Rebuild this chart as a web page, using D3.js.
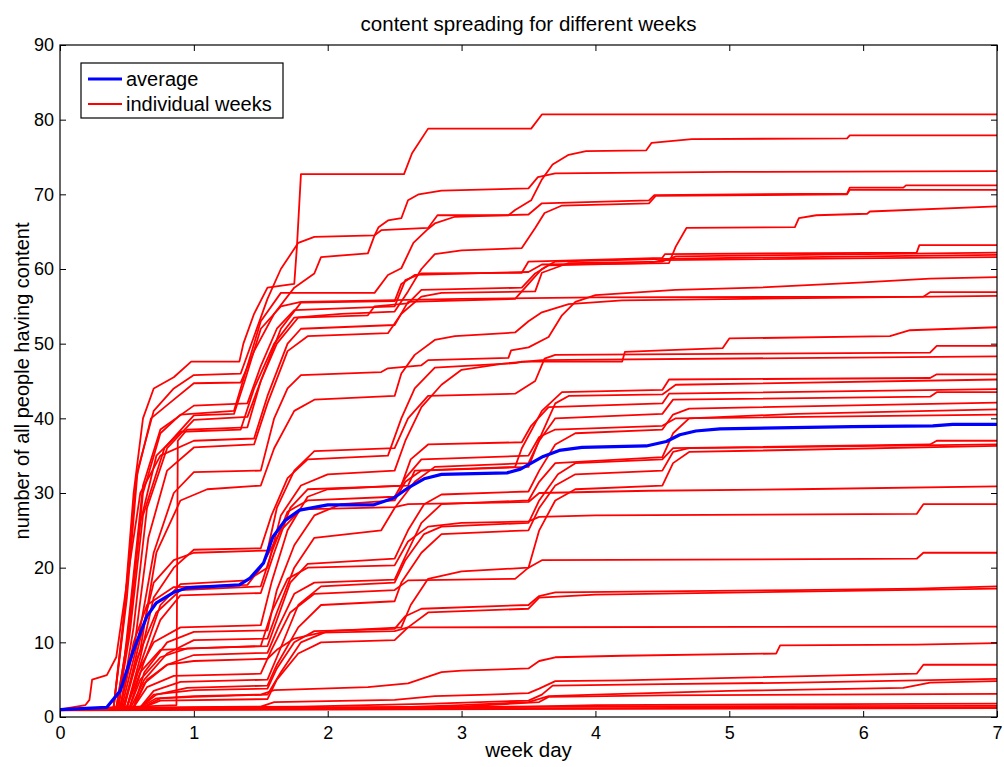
<!DOCTYPE html>
<html>
<head>
<meta charset="utf-8">
<script src="https://cdn.jsdelivr.net/npm/d3@7"></script>
<style>
    body { margin: 0; background: #fff; }
    text { font-family: "Liberation Sans", Arial, Helvetica, sans-serif; fill: #000; }
</style>
</head>
<body>
<div class="svg-container"></div>
<script>
// tick labels
const xTicks = [0, 1, 2, 3, 4, 5, 6, 7];
const yTicks = [0, 10, 20, 30, 40, 50, 60, 70, 80, 90];

// average over all weeks (day, people)
const average = [[0,1],[0.35,1.3],[0.45,3.5],[0.55,9],[0.65,13.5],[0.72,15.3],[0.85,16.7],[0.95,17.3],[1.34,17.7],[1.42,18.6],[1.52,20.6],[1.59,24.1],[1.68,26.3],[1.79,27.7],[2.0,28.4],[2.34,28.4],[2.49,29.3],[2.61,30.8],[2.72,31.9],[2.85,32.5],[3.34,32.7],[3.44,33.2],[3.52,34],[3.61,34.9],[3.73,35.7],[3.9,36.1],[4.38,36.3],[4.53,36.9],[4.63,37.8],[4.75,38.3],[4.93,38.6],[5.92,38.9],[6.52,39],[6.67,39.2],[7,39.2]];

// individual weeks (day, people)
const weeksHigh = [
    [[0,1],[0.4,1.3],[0.47,12],[0.55,30],[0.62,40],[0.7,44],[0.85,45.5],[0.98,47.6],[1.34,47.6],[1.37,50],[1.45,54],[1.55,57.5],[1.75,58],[1.77,63],[1.8,72.7],[2.57,72.7],[2.63,75.5],[2.75,78.8],[3.52,78.8],[3.6,80.7],[7,80.7]],
    [[0,1],[0.4,1.2],[0.48,14],[0.57,32],[0.68,40],[0.85,42.5],[1.0,44.7],[1.35,44.8],[1.45,49],[1.6,54],[1.75,57.5],[1.9,59.4],[1.95,61.6],[2.3,62.1],[2.35,64.5],[2.4,65.2],[2.75,65.5],[2.82,67.2],[3.35,67.2],[3.4,67.9],[3.52,69.2],[3.6,72],[3.68,74],[3.8,75.3],[3.93,75.8],[4.38,75.9],[4.42,76.9],[4.72,77.4],[5.88,77.5],[5.9,77.9],[7,77.9]],
    [[0,1],[0.4,1.2],[0.5,16],[0.58,33],[0.7,41],[0.85,44],[1.0,45.8],[1.35,46],[1.45,51],[1.55,56],[1.65,60],[1.78,63.5],[1.9,64.3],[2.35,64.5],[2.38,65.6],[2.45,66.5],[2.55,66.8],[2.6,69.2],[2.68,70],[2.85,70.5],[3.5,70.8],[3.57,72.3],[3.7,72.8],[5.0,73],[7,73.1]],
    [[0,1],[0.42,1.2],[0.52,12],[0.62,30],[0.75,38],[0.9,40.5],[1.3,41],[1.4,47],[1.5,53],[1.65,56.8],[2.35,56.8],[2.45,59.2],[2.55,60.1],[2.64,63.5],[2.74,65.2],[2.8,66.1],[2.95,67],[3.5,67.3],[3.6,68.8],[4.4,69.2],[4.44,69.9],[5.88,70.1],[5.9,70.9],[6.3,70.9],[6.32,71.2],[7,71.2]],
    [[0,1],[0.42,1.2],[0.5,10],[0.6,26],[0.72,35],[0.9,38.2],[1.35,38.5],[1.45,44],[1.6,50],[1.75,53.5],[2.1,54],[2.5,54.3],[2.6,57],[2.7,60],[2.8,62],[3.0,62.5],[3.45,62.8],[3.55,65.5],[3.62,67.5],[3.75,68.5],[4.4,68.8],[4.45,69.8],[5.88,70],[5.9,70.6],[7,70.6]],
    [[0,1],[0.45,1.2],[0.55,12],[0.65,28],[0.8,36],[1.0,39.8],[1.4,40.2],[1.5,45],[1.65,52],[1.8,55.5],[2.5,55.7],[2.55,58],[2.65,59.2],[3.5,59.6],[3.6,60.6],[4.55,60.8],[4.6,63],[4.68,65.5],[5.49,65.6],[5.52,66.8],[5.65,67.2],[6.03,67.4],[6.05,67.7],[7,68.4]],
    [[0,1],[0.44,1.2],[0.52,14],[0.62,31],[0.75,38.5],[1.0,41.7],[1.4,42],[1.5,47],[1.62,52],[1.75,54.5],[2.5,55],[2.58,58.5],[2.7,59.4],[3.45,59.5],[3.5,61],[4.5,61.5],[4.52,62],[6.4,62.2],[6.42,63.2],[7,63.2]],
    [[0,1],[0.45,1.3],[0.56,10],[0.66,24],[0.8,33],[1.0,36.1],[1.45,36.5],[1.55,42],[1.7,49],[1.85,51],[2.45,51.4],[2.55,54],[2.7,56.3],[2.85,56.8],[3.55,57],[3.6,59.5],[3.8,60.8],[4.5,61],[4.6,61.7],[7,62.2]],
    [[0,1],[0.19,1.6],[0.22,2.3],[0.24,5],[0.35,5.6],[0.42,8],[0.5,18],[0.6,30],[0.75,35],[1.0,37],[1.45,37.3],[1.55,43],[1.7,50],[1.8,52],[2.5,52.5],[2.6,55.6],[3.4,56],[3.5,58],[3.6,60],[3.7,61],[4.6,61.4],[7,61.9]],
    [[0,1],[0.87,1.6],[0.88,37],[0.95,38.5],[1.4,38.8],[1.5,45],[1.62,50],[1.78,53.5],[2.3,53.8],[2.35,55],[2.6,55.4],[2.7,57.2],[3.45,57.5],[3.55,59.4],[3.65,60.5],[4.4,60.8],[4.5,61.2],[7,61.6]],
    [[0,1],[0.46,1.2],[0.58,10],[0.7,22],[0.85,30],[1.0,32.8],[1.5,33],[1.6,40],[1.7,44],[1.8,45.8],[2.4,46.2],[2.45,46.7],[2.7,47.1],[2.75,47.8],[3.35,48.1],[3.37,49.1],[3.5,49.5],[3.65,50.9],[3.75,53.8],[3.85,55.6],[4.0,56.5],[4.6,57.2],[5.2,57.5],[6.0,58.2],[6.5,58.7],[7,58.9]],
    [[0,1],[0.43,1.2],[0.52,11],[0.62,27],[0.78,36],[1.0,40.4],[1.3,40.6],[1.38,45],[1.5,52],[1.65,55],[1.8,55.6],[3.0,56],[4.0,56.2],[6.45,56.3],[6.5,56.9],[7,56.9]],
    [[0,1],[0.47,1.3],[0.6,9],[0.72,22],[0.9,29],[1.1,30.5],[1.5,31],[1.6,36],[1.75,41],[1.9,42.5],[2.5,43],[2.55,46],[2.65,48.5],[2.8,50.5],[2.95,51],[3.4,51.5],[3.5,53],[3.6,54.2],[3.8,55.3],[4.2,55.8],[7,56.4]]
];

const weeksMid = [
    [[0,1],[0.5,1.3],[0.6,8],[0.7,16],[0.85,20],[1.0,22.4],[1.5,22.6],[1.58,27],[1.7,32],[1.85,34.5],[2.45,35],[2.55,40],[2.65,44],[2.8,46.8],[3.4,47.4],[3.45,47.6],[4.2,47.6],[4.22,48.9],[4.5,49.1],[4.95,49.4],[5.0,50.7],[6.2,51],[6.35,51.8],[7,52.2]],
    [[0,1],[0.48,1.3],[0.58,9],[0.7,18],[0.85,21],[1.0,22],[1.55,22.3],[1.62,28],[1.75,33],[1.9,35.6],[2.5,36],[2.6,40],[2.75,43],[3.4,43.3],[3.55,45],[3.62,48],[3.7,48.5],[6.5,48.8],[6.55,49.7],[7,49.7]],
    [[0,1],[0.5,1.3],[0.6,7],[0.75,15],[0.9,17.8],[1.4,18.3],[1.55,20],[1.65,27],[1.8,31],[2.0,32.5],[2.5,33],[2.58,37],[2.7,41.5],[2.85,44.5],[3.0,46.5],[3.3,47.3],[3.6,47.8],[7,48.3]],
    [[0,1],[0.52,1.3],[0.62,7],[0.75,13],[0.9,16.3],[1.5,16.6],[1.6,22],[1.72,28],[1.85,30.5],[2.6,31],[2.65,33],[3.4,33.5],[3.45,36],[3.6,41],[3.75,43.5],[4.5,43.8],[4.55,45.2],[6.5,45.4],[6.55,45.9],[7,45.9]],
    [[0,1],[0.55,1.3],[0.63,6],[0.8,10],[1.0,11.4],[1.55,11.6],[1.62,17],[1.75,23],[1.9,27],[2.1,28.5],[2.5,29],[2.58,31.5],[2.7,33],[3.5,33.5],[3.6,38],[3.7,42],[3.8,43],[4.5,43.2],[4.6,44.5],[7,45.2]],
    [[0,1],[0.5,1.3],[0.58,6],[0.7,10],[0.9,12],[1.5,12.3],[1.58,18],[1.7,25],[1.85,29.5],[2.0,30.5],[2.55,31],[2.62,34.5],[2.75,36.5],[3.45,36.8],[3.52,39],[3.65,41.5],[4.5,42],[4.55,43.3],[7,43.9]],
    [[0,1],[0.53,1.3],[0.63,5],[0.8,8.5],[1.0,10.3],[1.55,10.5],[1.62,14],[1.75,20],[1.9,24],[2.4,25],[2.5,28],[2.65,31.5],[2.8,33.5],[3.5,34],[3.58,37],[3.7,40],[4.5,40.6],[4.58,42.5],[6.5,42.9],[6.55,43.5],[7,43.5]],
    [[0,1],[0.52,1.3],[0.6,5],[0.75,8],[0.95,9.2],[1.55,9.5],[1.62,13],[1.72,18],[1.85,20.5],[2.5,21.2],[2.6,25],[2.72,28.5],[2.85,29.8],[3.5,30.2],[3.58,33],[3.7,36.5],[3.85,38],[4.5,38.5],[4.58,40.5],[4.7,41.3],[7,42.1]],
    [[0,1],[0.55,1.3],[0.63,4.5],[0.8,7],[1.0,8.3],[1.55,8.6],[1.63,12],[1.75,16.5],[1.9,18],[2.5,18.4],[2.58,21.5],[2.7,26],[2.85,28.5],[3.5,29],[3.58,31.5],[3.7,34],[4.5,34.8],[4.58,38],[4.7,40],[5.5,40.6],[7,41.2]],
    [[0,1],[0.48,1.3],[0.58,8],[0.72,14],[0.9,17],[1.5,17.5],[1.58,22],[1.7,27.5],[1.85,29],[2.5,29.5],[2.58,32],[2.7,34.5],[3.5,35],[3.58,37.5],[3.7,38.5],[4.5,39],[4.6,40],[7,40.5]],
    [[0,1],[0.6,1.3],[0.7,3.5],[0.9,4.7],[1.55,5],[1.62,8],[1.78,15],[1.95,17.5],[2.5,18],[2.58,21],[2.72,24.5],[2.85,25.5],[3.5,26],[3.58,29],[3.72,32.5],[3.85,34],[4.5,34.5],[4.58,36],[6.5,36.5],[6.55,37],[7,37]],
    [[0,1],[0.6,1.3],[0.72,3],[0.95,3.9],[1.55,4.2],[1.62,7],[1.78,12],[1.95,15],[2.5,15.5],[2.55,18],[2.7,22],[2.85,24.5],[3.5,25],[3.58,28],[3.7,31],[3.85,32.5],[4.5,33],[4.58,35.5],[4.7,36],[7,36.5]],
    [[0,1],[0.62,1.3],[0.75,2.5],[1.0,2.7],[1.55,3],[1.65,6],[1.8,10],[2.0,11.5],[2.55,12],[2.62,15],[2.75,18.5],[3.0,19.5],[3.5,20],[3.58,25],[3.7,29],[3.85,30.5],[4.5,31],[4.58,34],[4.7,35.5],[7,36.3]]
];

const weeksLow = [
    [[0,1],[0.45,1.2],[0.55,10],[0.65,15],[0.85,17.4],[1.4,17.7],[1.5,20],[1.65,25],[1.8,27.8],[2.5,28.1],[2.6,28.5],[3.5,28.8],[3.58,30],[4.4,30.3],[5.5,30.5],[7,30.9]],
    [[0,1],[0.5,1.3],[0.6,6],[0.75,9],[1.0,9.2],[1.5,9.5],[1.58,14],[1.7,18.5],[1.85,20],[2.5,20.3],[2.6,23.5],[2.75,25.5],[3.0,26],[3.5,26.2],[3.58,26.8],[4.0,27],[6.4,27.2],[6.45,28.5],[7,28.5]],
    [[0,1],[0.55,1.3],[0.65,4],[0.85,5.5],[1.5,5.8],[1.58,9],[1.72,14],[1.9,16.5],[2.5,17],[2.6,18.3],[3.4,18.5],[3.5,20],[3.6,21],[6.4,21.2],[6.45,22],[7,22]],
    [[0,1],[0.6,1.3],[0.7,3],[1.0,3.6],[1.55,3.8],[1.62,6.5],[1.75,10],[1.9,11.5],[2.5,11.8],[2.58,13.5],[2.7,14.5],[3.5,15],[3.58,16.2],[3.7,16.7],[5.5,17],[6.4,17.2],[7,17.5]],
    [[0,1],[0.62,1.3],[0.75,2.2],[1.55,2.4],[1.62,5],[1.78,8.5],[1.95,10],[2.5,10.3],[2.6,12],[2.75,14],[3.5,14.5],[3.58,16],[4.0,16.4],[5.5,16.8],[7,17.2]],
    [[0,1],[0.55,1.3],[0.65,5],[0.8,7],[1.0,7.5],[1.55,7.8],[1.62,9],[1.75,10.5],[1.95,11.3],[2.5,11.5],[2.6,12],[7,12.1]],
    [[0,1],[0.6,1.3],[0.72,2.5],[1.0,2.8],[1.5,3],[1.6,3.6],[2.3,4],[2.6,4.5],[2.85,6],[3.0,6.2],[3.5,6.5],[3.58,7.5],[3.7,8],[4.2,8.2],[5.35,8.5],[5.38,9.6],[6.4,9.7],[7,9.9]],
    [[0,1],[0.65,1.3],[1.5,1.4],[1.6,2],[2.5,2.3],[2.8,2.8],[3.2,3],[3.5,3.2],[3.58,3.8],[3.7,4.8],[4.2,4.9],[6.4,5.8],[6.45,7],[7,7]],
    [[0,1],[0.7,1.2],[1.8,1.4],[2.8,1.8],[3.5,2.2],[3.6,3],[3.68,4.2],[4.5,4.4],[5.5,4.6],[7,5.1]],
    [[0,1],[0.7,1.2],[2.5,1.3],[3.0,1.6],[3.5,2],[3.65,2.8],[4.0,3],[5.0,3.5],[6.3,3.9],[6.5,4.6],[7,4.8]],
    [[0,1],[1.0,1.2],[3.0,1.4],[3.58,2],[3.65,2.7],[4.5,2.9],[7,3.1]],
    [[0,1],[2.0,1.2],[3.5,1.4],[4.0,1.6],[7,1.8]],
    [[0,1],[0.6,1.1],[3.0,1.2],[3.5,1.4],[7,1.5]],
    [[0,1],[1.0,1.1],[4.0,1.2],[7,1.3]],
    [[0,0.9],[2,1],[7,1.2]]
];

const weeks = weeksHigh.concat(weeksMid, weeksLow);

const viewBox_width = 1004,
    viewBox_height = 767,
    margin = {top: 45, right: 7, bottom: 50, left: 60},
    width = viewBox_width - margin.left - margin.right,
    height = viewBox_height - margin.top - margin.bottom;

const svg = d3.select('.svg-container')
    .append('svg')
    .attr('width', viewBox_width)
    .attr('height', viewBox_height);

const xScale = d3.scaleLinear().domain([0, 7]).range([0, width]),
    yScale = d3.scaleLinear().domain([0, 90]).range([height, 0]);

const g = svg.append('g')
    .attr('transform', 'translate(' + margin.left + ',' + margin.top + ')');

// clip the lines to the axes box
g.append('clipPath').attr('id', 'plot-clip')
    .append('rect').attr('width', width).attr('height', height);

const line = d3.line()
    .x(function (d) { return xScale(d[0]); })
    .y(function (d) { return yScale(d[1]); });

const lines = g.append('g').attr('clip-path', 'url(#plot-clip)');

lines.selectAll('.week')
    .data(weeks).enter().append('path')
    .attr('class', 'week')
    .attr('d', line)
    .attr('fill', 'none')
    .attr('stroke', '#ff0000')
    .attr('stroke-width', 1.8)
    .attr('stroke-linejoin', 'round');

lines.append('path')
    .datum(average)
    .attr('d', line)
    .attr('fill', 'none')
    .attr('stroke', '#0000ff')
    .attr('stroke-width', 3.2)
    .attr('stroke-linejoin', 'round');

// axes, matlab style: ticks inside, box on
const tickLen = 6;
const xAxis = g.append('g')
    .attr('transform', 'translate(0,' + height + ')')
    .call(d3.axisBottom(xScale).tickValues(xTicks).tickFormat(d3.format('d'))
        .tickSizeInner(-tickLen).tickSizeOuter(0).tickPadding(9));
const yAxis = g.append('g')
    .call(d3.axisLeft(yScale).tickValues(yTicks).tickFormat(d3.format('d'))
        .tickSizeInner(-tickLen).tickSizeOuter(0).tickPadding(6));
g.append('g')
    .call(d3.axisTop(xScale).tickValues(xTicks).tickSizeInner(-tickLen).tickSizeOuter(0).tickFormat(''));
g.append('g')
    .attr('transform', 'translate(' + width + ',0)')
    .call(d3.axisRight(yScale).tickValues(yTicks).tickSizeInner(-tickLen).tickSizeOuter(0).tickFormat(''));

g.selectAll('.domain').remove();
g.selectAll('.tick line').attr('stroke', '#000').attr('stroke-width', 1);
xAxis.selectAll('text').style('font-size', '18px').attr('dy', '0.71em');
yAxis.selectAll('text').style('font-size', '18px');

g.append('rect')
    .attr('width', width).attr('height', height)
    .attr('fill', 'none').attr('stroke', '#000').attr('stroke-width', 1.2);

// labels
svg.append('text')
    .attr('x', margin.left + width / 2).attr('y', 31)
    .attr('text-anchor', 'middle')
    .style('font-size', '20.5px')
    .text('content spreading for different weeks');

svg.append('text')
    .attr('x', margin.left + width / 2).attr('y', 757)
    .attr('text-anchor', 'middle')
    .style('font-size', '20.5px')
    .text('week day');

svg.append('text')
    .attr('transform', 'translate(29,' + (margin.top + height / 2) + ') rotate(-90)')
    .attr('text-anchor', 'middle')
    .style('font-size', '20px')
    .text('number of all people having content');

// legend
const legend = svg.append('g').attr('transform', 'translate(81,63)');
legend.append('rect')
    .attr('width', 202).attr('height', 55)
    .attr('fill', '#fff').attr('stroke', '#000').attr('stroke-width', 1.2);
const legendItems = [
    {label: 'average', color: '#0000ff', w: 3.2},
    {label: 'individual weeks', color: '#ff0000', w: 1.8}
];
legend.selectAll('.item')
    .data(legendItems).enter().append('g')
    .attr('class', 'item')
    .attr('transform', function (d, i) { return 'translate(0,' + (16 + i * 25) + ')'; })
    .each(function (d) {
        const item = d3.select(this);
        item.append('line')
            .attr('x1', 7).attr('x2', 41)
            .attr('stroke', d.color).attr('stroke-width', d.w);
        item.append('text')
            .attr('x', 45).attr('dy', '0.35em')
            .style('font-size', '20px')
            .text(d.label);
    });
</script>
</body>
</html>
